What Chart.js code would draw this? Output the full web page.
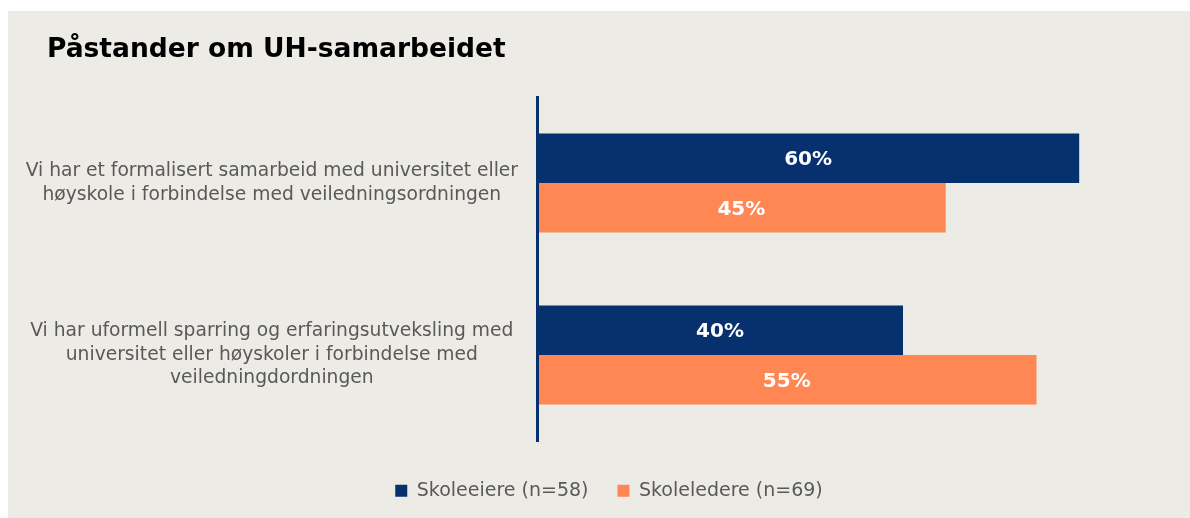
<!DOCTYPE html>
<html>
<head>
<meta charset="utf-8">
<script src="https://cdn.jsdelivr.net/npm/chart.js@4.4.0/dist/chart.umd.min.js"></script>
<style>
html,body{margin:0;padding:0;background:#ffffff;}
canvas{display:block;}
</style>
</head>
<body>
<canvas id="c" width="1190" height="518"></canvas>
<script>
// ---- data ----
const chartTitle = 'Påstander om UH-samarbeidet';
const categories = [
  ['Vi har et formalisert samarbeid med universitet eller', 'høyskole i forbindelse med veiledningsordningen'],
  ['Vi har uformell sparring og erfaringsutveksling med', 'universitet eller høyskoler i forbindelse med', 'veiledningdordningen']
];
const seriesNames = ['Skoleeiere (n=58)', 'Skoleledere (n=69)'];
const skoleeiere = [59.7, 40.3];
const skoleledere = [45.0, 55.0];
const seriesColors = ['#06316E', '#FF8754'];

const FONT = "'DejaVu Sans', Verdana, sans-serif";
Chart.defaults.font.family = FONT;

const panelBg = {
  id: 'panelBg',
  beforeDraw(chart) {
    const ctx = chart.ctx;
    ctx.save();
    ctx.fillStyle = '#ffffff';
    ctx.fillRect(0, 0, chart.width, chart.height);
    ctx.fillStyle = '#EDEBE6';
    ctx.fillRect(8, 11, chart.width - 8, chart.height - 11);
    ctx.restore();
  }
};

const titleText = {
  id: 'titleText',
  afterDraw(chart) {
    const ctx = chart.ctx;
    ctx.save();
    ctx.font = 'bold 26.5px ' + FONT;
    ctx.fillStyle = '#000000';
    ctx.textAlign = 'left';
    ctx.textBaseline = 'alphabetic';
    ctx.fillText(chartTitle, 47, 57);
    ctx.restore();
  }
};

const barLabels = {
  id: 'barLabels',
  afterDatasetsDraw(chart) {
    const ctx = chart.ctx;
    ctx.save();
    ctx.font = 'bold 20px ' + FONT;
    ctx.fillStyle = '#ffffff';
    ctx.textAlign = 'center';
    ctx.textBaseline = 'middle';
    chart.data.datasets.forEach((ds, di) => {
      const meta = chart.getDatasetMeta(di);
      meta.data.forEach((el, i) => {
        const p = el.getProps(['x', 'y', 'base'], true);
        ctx.fillText(Math.round(ds.data[i]) + '%', (p.x + p.base) / 2, p.y + 2);
      });
    });
    ctx.restore();
  }
};

new Chart(document.getElementById('c'), {
  type: 'bar',
  data: {
    labels: categories,
    datasets: [
      { label: seriesNames[0], data: skoleeiere, backgroundColor: seriesColors[0], borderWidth: 0 },
      { label: seriesNames[1], data: skoleledere, backgroundColor: seriesColors[1], borderWidth: 0 }
    ]
  },
  options: {
    indexAxis: 'y',
    responsive: false,
    animation: false,
    categoryPercentage: 0.576,
    barPercentage: 1.0,
    layout: { padding: { left: 8, right: -20, top: 97, bottom: 7.75 } },
    scales: {
      x: {
        min: 0, max: 71.9,
        display: true,
        grid: { display: false },
        border: { display: false },
        ticks: { display: false },
        afterFit(scale) { scale.height = 11.25; }
      },
      y: {
        grid: { display: false },
        border: { display: true, color: '#06316E', width: 3, z: 1 },
        ticks: {
          crossAlign: 'center',
          padding: 11,
          color: '#595959',
          font: { size: 18.7, lineHeight: 1.26 }
        },
        afterFit(scale) { scale.width = 537 - 8; }
      }
    },
    plugins: {
      tooltip: { enabled: false },
      title: { display: false },
      legend: {
        position: 'bottom',
        labels: {
          color: '#595959',
          font: { size: 19 },
          boxWidth: 12,
          boxHeight: 12,
          padding: 29
        }
      }
    }
  },
  plugins: [panelBg, barLabels, titleText]
});
</script>
</body>
</html>
